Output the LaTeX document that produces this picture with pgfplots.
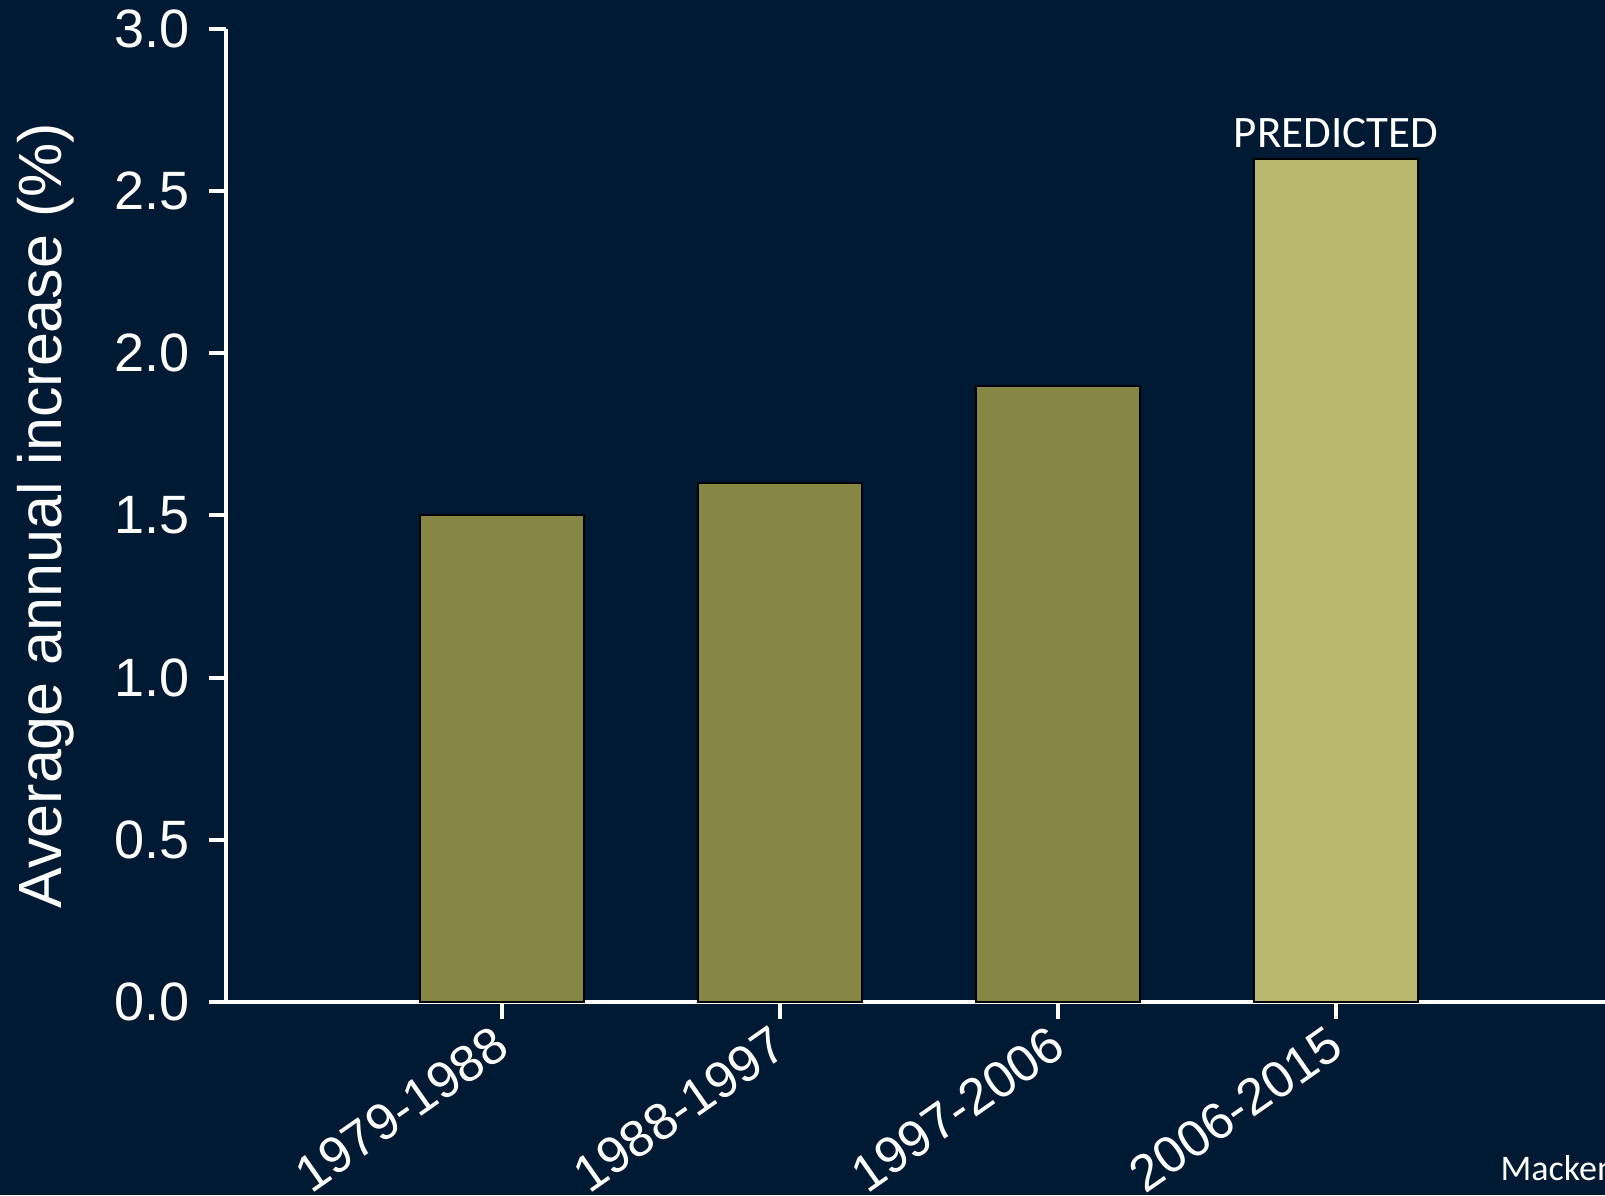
\documentclass[border=0pt]{standalone}
\usepackage{fontspec}
\setmainfont{Liberation Sans}
\newfontfamily\calibri{Carlito}
\usepackage{pgfplots}
\pgfplotsset{compat=1.18}
\definecolor{bg}{HTML}{001A33}
\definecolor{olive}{HTML}{878745}
\definecolor{lolive}{HTML}{B7B86E}
\begin{document}
\begin{tikzpicture}
\useasboundingbox[fill=bg] (0,0) rectangle (481.5pt,358.5pt);
\begin{axis}[
  at={(67.8pt,57.9pt)}, anchor=south west,
  scale only axis, width=413.7pt, height=291.9pt,
  xmin=-0.993, xmax=3.967, ymin=0, ymax=3,
  axis lines*=left,
  axis line style={white, line width=1.2pt},
  every tick/.style={white, line width=1.2pt},
  tick align=outside, major tick length=5.2pt,
  xtick={0,1,2,3},
  xticklabels={1979-1988,1988-1997,1997-2006,2006-2015},
  ytick={0,0.5,1,1.5,2,2.5,3},
  yticklabels={0.0,0.5,1.0,1.5,2.0,2.5,3.0},
  tick label style={white},
  yticklabel style={font=\fontsize{16.2pt}{19pt}\selectfont, xshift=-2.2pt},
  xticklabel style={font=\fontsize{15.4pt}{18pt}\selectfont, rotate=35, anchor=north east, xshift=0.2pt, yshift=4.2pt},
  ylabel={Average annual increase (\%)},
  ylabel style={white, font=\fontsize{18.3pt}{22pt}\selectfont, at={(axis description cs:-0.1305,0.5)}, anchor=center},
  clip=false,
]
\addplot[ybar, bar width=0.59, fill=olive, draw=black, line width=0.6pt] coordinates {(0,1.5) (1,1.6) (2,1.9)};
\addplot[ybar, bar width=0.59, fill=lolive, draw=black, line width=0.6pt] coordinates {(3,2.6)};
\node[white, font=\calibri\fontsize{13.5pt}{16pt}\selectfont, anchor=base, inner sep=0pt] at (axis cs:3,2.6) [yshift=3.3pt] {PREDICTED};
\end{axis}
\node[white, font=\calibri\fontsize{10.8pt}{13pt}\selectfont, anchor=base west, inner sep=0pt] at (450pt,4.5pt) {Mackenzie et al.};
\end{tikzpicture}
\end{document}
